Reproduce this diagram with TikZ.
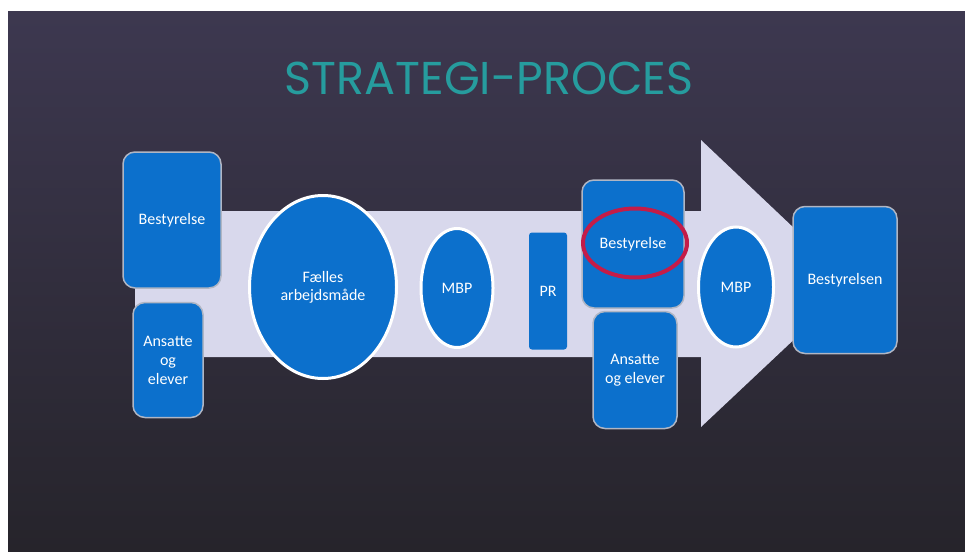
\documentclass[tikz,border=0pt]{standalone}
\usepackage{fontspec}
\setmainfont{Carlito}
\newfontfamily\titlefont{Poppins}
\usetikzlibrary{shapes.geometric}
\definecolor{boxblue}{RGB}{12,112,204}
\definecolor{boxedge}{RGB}{176,182,196}
\definecolor{arrowfill}{RGB}{216,216,236}
\definecolor{bgtop}{RGB}{61,56,80}
\definecolor{bgbot}{RGB}{38,36,43}
\definecolor{titleteal}{RGB}{38,156,158}
\definecolor{markred}{RGB}{196,28,72}
\begin{document}
\begin{tikzpicture}[x=1pt,y=-1pt,
  rbox/.style={draw=boxedge, line width=1.5pt, fill=boxblue, rounded corners=12pt,
    text=white, font=\fontsize{16}{19}\selectfont, align=center, inner sep=0pt},
  oval/.style={ellipse, draw=white, line width=3pt, fill=boxblue,
    text=white, font=\fontsize{16}{18}\selectfont, align=center, inner sep=0pt},
  prbox/.style={fill=boxblue, rounded corners=3pt, text=white,
    font=\fontsize{16}{18}\selectfont, inner sep=0pt},
  redring/.style={ellipse, draw=markred, line width=4pt, inner sep=0pt}]
\useasboundingbox (0,0) rectangle (965,551);
\fill[white] (0,0) rectangle (965,551);
\shade[top color=bgtop, bottom color=bgbot] (8,12) rectangle (965,551);
% title
\node[font=\titlefont\fontsize{46}{50}\selectfont, text=titleteal] (title) at (489,78) {STRATEGI-PROCES};
% big arrow
\fill[arrowfill] (135,211) -- (701,211) -- (701,140) -- (853,284) -- (701,427) -- (701,357) -- (135,357) -- cycle;
% nodes
\node[rbox, minimum width=98, minimum height=136] (b1) at (172,220) {Bestyrelse};
\node[rbox, minimum width=70, minimum height=115] (a1) at (168,360) {Ansatte\\og\\elever};
\node[oval, minimum width=147, minimum height=183] (f) at (323,287) {Fælles\\arbejdsmåde};
\node[oval, minimum width=72, minimum height=119] (m1) at (457,288) {MBP};
\node[prbox, minimum width=38, minimum height=117] (pr) at (548,291) {PR};
\node[rbox, minimum width=102, minimum height=128] (b2) at (633,244) {Bestyrelse};
\node[rbox, minimum width=84, minimum height=117] (a2) at (635,370) {Ansatte\\og elever};
\node[oval, minimum width=75, minimum height=120] (m2) at (736,287) {MBP};
\node[rbox, minimum width=104, minimum height=147] (b3) at (845,280) {Bestyrelsen};
\node[redring, minimum width=104, minimum height=69] (ring) at (635,243) {};
\end{tikzpicture}
\end{document}
